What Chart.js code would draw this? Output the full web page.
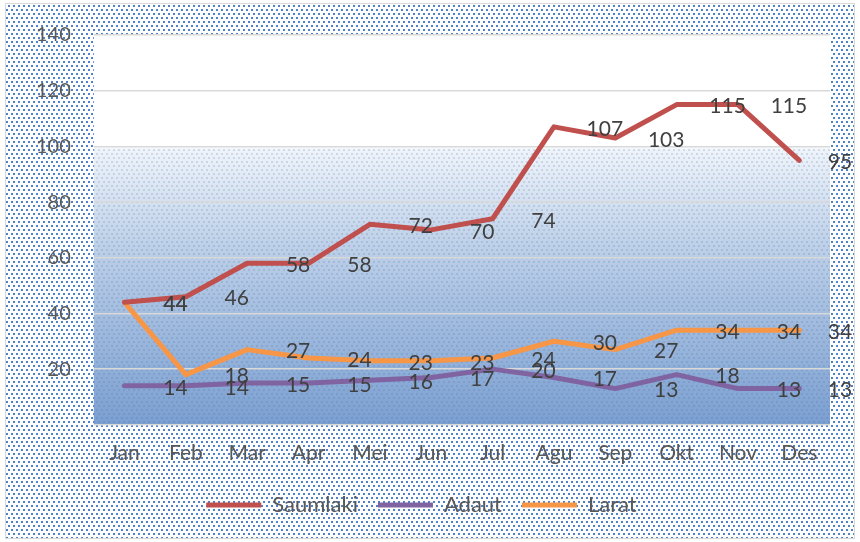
<!DOCTYPE html>
<html>
<head>
<meta charset="utf-8">
<script src="https://cdn.jsdelivr.net/npm/chart.js@4.4.0/dist/chart.umd.min.js"></script>
<style>
  html, body { margin: 0; padding: 0; background: #fff; }
  canvas { display: block; }
</style>
</head>
<body>
<canvas id="chart" width="860" height="542"></canvas>
<script>
const months = ['Jan', 'Feb', 'Mar', 'Apr', 'Mei', 'Jun', 'Jul', 'Agu', 'Sep', 'Okt', 'Nov', 'Des'];
const saumlaki = [44, 46, 58, 58, 72, 70, 74, 107, 103, 115, 115, 95];
const adaut = [14, 14, 15, 15, 16, 17, 20, 17, 13, 18, 13, 13];
const larat = [44, 18, 27, 24, 23, 23, 24, 30, 27, 34, 34, 34];
const yTicks = [20, 40, 60, 80, 100, 120, 140];

const FONT = 'Lato, "Open Sans", sans-serif';

function dotPattern(ctx, color) {
    const c = document.createElement('canvas');
    c.width = 10; c.height = 8;
    const p = c.getContext('2d');
    p.fillStyle = color;
    [[1, 1], [6, 1], [3, 5], [8, 5]].forEach(([x, y]) => p.fillRect(x, y, 2, 2));
    return ctx.createPattern(c, 'repeat');
}

// background: dotted outer area + gradient plot area
const backdrop = {
    id: 'backdrop',
    beforeDraw(chart) {
        const { ctx, chartArea: a, width, height } = chart;
        ctx.save();
        ctx.fillStyle = '#fff';
        ctx.fillRect(0, 0, width, height);
        ctx.fillStyle = dotPattern(ctx, 'rgb(79,129,199)');
        ctx.fillRect(6, 4, width - 12, height - 8);
        ctx.strokeStyle = '#d9d9d9';
        ctx.lineWidth = 1;
        ctx.strokeRect(5.5, 3.5, width - 11, height - 7);

        const y100 = chart.scales.y.getPixelForValue(100);
        const g = ctx.createLinearGradient(0, a.top, 0, a.bottom);
        const f = (y100 - a.top) / (a.bottom - a.top);
        g.addColorStop(0, '#ffffff');
        g.addColorStop(f, '#ffffff');
        g.addColorStop(f + 0.01, '#eef3f9');
        g.addColorStop(0.55, '#bccfe7');
        g.addColorStop(1, '#7b9fd0');
        ctx.fillStyle = g;
        ctx.fillRect(a.left, a.top, a.right - a.left, a.bottom - a.top);
        ctx.globalAlpha = 0.18;
        ctx.fillStyle = dotPattern(ctx, 'rgb(60,100,170)');
        ctx.fillRect(a.left, y100, a.right - a.left, a.bottom - y100);
        ctx.restore();
    }
};

// data labels, drawn shifted to the right like the source
const valueLabels = {
    id: 'valueLabels',
    afterDatasetsDraw(chart) {
        const { ctx, scales: { x, y } } = chart;
        ctx.save();
        ctx.font = '21px ' + FONT;
        ctx.fillStyle = '#404040';
        ctx.textAlign = 'center';
        ctx.textBaseline = 'middle';
        chart.data.datasets.forEach(ds => {
            ds.data.forEach((v, i) => {
                const px = Math.min(x.getPixelForValue(i + 0.83), x.right + 10);
                ctx.fillText(String(v), px, y.getPixelForValue(v) + 2);
            });
        });
        ctx.restore();
    }
};

const lineDs = (label, data, color) => ({
    label, data, borderColor: color, backgroundColor: color,
    borderWidth: 5, borderCapStyle: 'round', borderJoinStyle: 'round'
});

new Chart(document.getElementById('chart'), {
    type: 'line',
    data: {
        labels: months,
        datasets: [
            lineDs('Saumlaki', saumlaki, '#c0504d'),
            lineDs('Adaut', adaut, '#8064a2'),
            lineDs('Larat', larat, '#f79646')
        ]
    },
    options: {
        responsive: false,
        animation: false,
        layout: { padding: { left: 13, right: 30, top: 14, bottom: 16 } },
        elements: {
            line: { tension: 0 },
            point: { radius: 0 }
        },
        scales: {
            x: {
                offset: true,
                grid: { display: false },
                border: { display: false },
                ticks: { color: '#595959', font: { family: FONT, size: 21 }, padding: 8 }
            },
            y: {
                min: 0, max: 140,
                afterBuildTicks: s => { s.ticks = [0].concat(yTicks).map(v => ({ value: v })); },
                grid: { color: '#d9d9d9', lineWidth: 1.5, drawTicks: false },
                border: { display: false },
                ticks: {
                    color: '#595959', font: { family: FONT, size: 20 }, padding: 23,
                    callback: v => v === 0 ? '' : v
                }
            }
        },
        plugins: {
            legend: {
                position: 'bottom',
                labels: {
                    usePointStyle: true, pointStyle: 'line', pointStyleWidth: 55,
                    color: '#595959', font: { family: FONT, size: 22 }, padding: 20
                }
            },
            tooltip: { enabled: false }
        }
    },
    plugins: [backdrop, valueLabels]
});
</script>
</body>
</html>
